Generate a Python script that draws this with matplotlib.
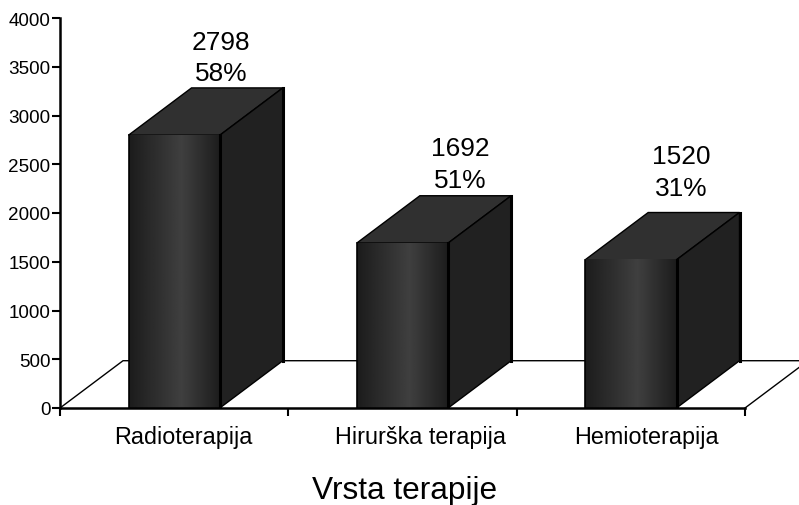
import numpy as np
import matplotlib
matplotlib.use('Agg')
import matplotlib.pyplot as plt
from matplotlib.patches import Polygon

plt.rcParams['font.family'] = ['Liberation Sans', 'DejaVu Sans']

categories = ['Radioterapija', 'Hirurška terapija', 'Hemioterapija']
values = [2798, 1692, 1520]
percents = ['58%', '51%', '31%']
yticks = [0, 500, 1000, 1500, 2000, 2500, 3000, 3500, 4000]

# label offsets from bar centre / top, in pixels
label_dx = [47, 58, 50]
label_dy = [50, 51, 60]
# category labels sit a bit right of the bar centres
cat_pos = [0.541, 1.581, 2.569]

bar_w = 0.40
depth_x = 0.276
depth_y = 485

fig = plt.figure(figsize=(7.99, 5.06), dpi=100)
ax = fig.add_axes([60 / 799, 1 - 409 / 506, 685 / 799, 390 / 506])
ax.set_xlim(0, 3)
ax.set_ylim(0, 4000)
ax.patch.set_visible(False)

for s in ['top', 'right']:
    ax.spines[s].set_visible(False)
for s in ['left', 'bottom']:
    ax.spines[s].set_linewidth(1.8)
    ax.spines[s].set_zorder(6)

ax.set_yticks(yticks)
ax.set_xticks([0, 1, 2, 3])
ax.set_xticklabels([])
ax.tick_params(axis='both', length=5.8, width=1.5, labelsize=13.6, pad=1)
ax.set_xticks(cat_pos, labels=categories, minor=True)
ax.tick_params(axis='x', which='minor', length=0, labelsize=16.8, pad=12)

# floor
ax.plot([0, depth_x, 3 + depth_x], [0, depth_y, depth_y], color='black', lw=1, clip_on=False, zorder=1)
ax.plot([3, 3 + depth_x], [0, depth_y], color='black', lw=1, clip_on=False, zorder=1)

# front gradient
g_pos = [0, 0.57, 1]
g_val = [0.11, 0.25, 0.11]
grad = np.interp(np.linspace(0, 1, 128), g_pos, g_val).reshape(1, -1)

for i, v in enumerate(values):
    x0 = i + 0.5 - bar_w / 2
    x1 = i + 0.5 + bar_w / 2
    top = Polygon([(x0, v), (x1, v), (x1 + depth_x, v + depth_y), (x0 + depth_x, v + depth_y)],
                  facecolor='#303030', edgecolor='black', lw=1, zorder=3, clip_on=False)
    side = Polygon([(x1, 0), (x1 + depth_x, depth_y), (x1 + depth_x, v + depth_y), (x1, v)],
                   facecolor='#212121', edgecolor='black', lw=1, zorder=3, clip_on=False)
    ax.add_patch(top)
    ax.add_patch(side)
    ax.imshow(grad, extent=[x0, x1, 0, v], aspect='auto', cmap='gray', vmin=0, vmax=1, zorder=4)
    ax.plot([x0, x0], [0, v], color='black', lw=1.2, zorder=5)
    ax.plot([x1, x1], [0, v], color='black', lw=2.2, zorder=5)
    ax.plot([x1 + depth_x] * 2, [depth_y, v + depth_y], color='black', lw=2.2, zorder=5, clip_on=False)
    ax.annotate(f'{v}\n{percents[i]}', xy=(i + 0.5, v), xytext=(label_dx[i], label_dy[i]),
                textcoords='offset pixels', ha='center', va='bottom', fontsize=18.9,
                linespacing=1.4, annotation_clip=False, zorder=7)

ax.set_xlim(0, 3)
ax.set_ylim(0, 4000)

fig.text(405 / 799, 1 - 499.5 / 506, 'Vrsta terapije', ha='center', va='baseline', fontsize=22.8)

fig.savefig('out.png', dpi=100)
